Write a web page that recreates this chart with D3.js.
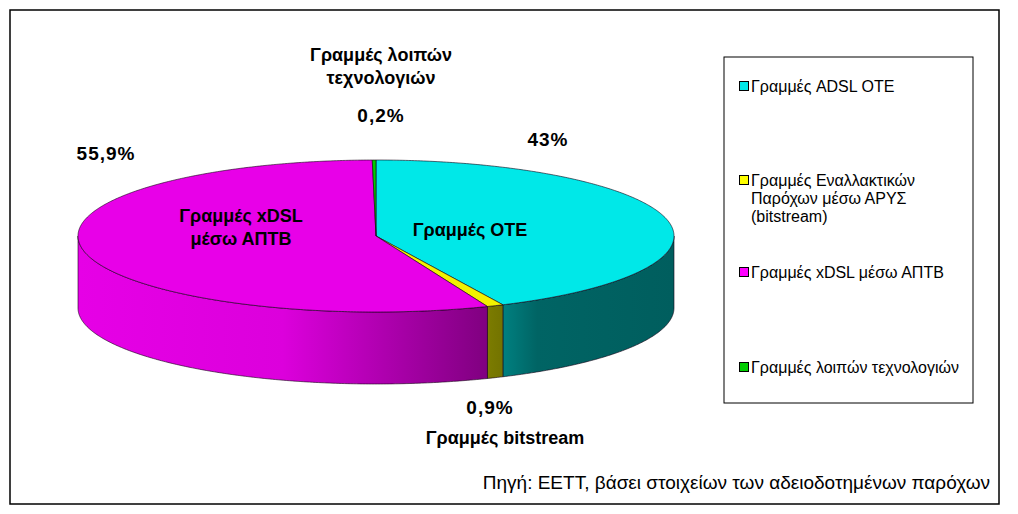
<!DOCTYPE html>
<html><head><meta charset="utf-8">
<script src="https://cdn.jsdelivr.net/npm/d3@7"></script>
<style>body{margin:0;background:#fff}svg{display:block}</style>
</head><body>
<svg id="c" width="1018" height="514"></svg>
<script>
// ---- data ----
const categories = ["Γραμμές ADSL OTE", "Γραμμές Εναλλακτικών Παρόχων μέσω ΑΡΥΣ (bitstream)", "Γραμμές xDSL μέσω ΑΠΤΒ", "Γραμμές λοιπών τεχνολογιών"];
const legendLines = [["Γραμμές ADSL OTE"], ["Γραμμές Εναλλακτικών", "Παρόχων μέσω ΑΡΥΣ", "(bitstream)"], ["Γραμμές xDSL μέσω ΑΠΤΒ"], ["Γραμμές λοιπών τεχνολογιών"]];
const values = [43, 0.9, 55.9, 0.2];
const valueLabels = ["43%", "0,9%", "55,9%", "0,2%"];
const nameLabels = [["Γραμμές OTE"], ["Γραμμές bitstream"], ["Γραμμές xDSL", "μέσω ΑΠΤΒ"], ["Γραμμές λοιπών", "τεχνολογιών"]];
const topColors = ["#00E8E8", "#F2F200", "#E800E8", "#00CC00"];
const sideColors = [["#008080", "#006464", "#005E5E"], ["#808000", "#7A7A00", "#737300"], ["#E600E6", "#DC00DC", "#800080"], ["#008000", "#007000", "#006000"]];
const legendColors = ["#00E8E8", "#FFFF00", "#FF00FF", "#00CC00"];
const sourceText = "Πηγή: ΕΕΤΤ, βάσει στοιχείων των αδειοδοτημένων παρόχων";

const svg = d3.select("#c");
const font = "Arial, 'Liberation Sans', sans-serif";

// outer frame
svg.append("rect").attr("x", 10).attr("y", 10).attr("width", 989).attr("height", 494)
  .attr("fill", "#fff").attr("stroke", "#000").attr("stroke-width", 1.5);

// pie geometry
const cx = 376, cy = 236, rx = 298, ry = 76, depth = 72;
const pie = d3.pie().sort(null).value(d => d)(values);
const P = (t, dy = 0) => [cx + rx * Math.sin(t), cy - ry * Math.cos(t) + dy];
const arcPts = (a0, a1, dy) => {
  const n = Math.max(2, Math.ceil(Math.abs(a1 - a0) / 0.01));
  return d3.range(n + 1).map(i => P(a0 + (a1 - a0) * i / n, dy));
};
const defs = svg.append("defs");
const g = svg.append("g");

// side walls (front half only: angles between PI/2 and 3PI/2)
pie.forEach((s, i) => {
  const a0 = Math.max(s.startAngle, Math.PI / 2), a1 = Math.min(s.endAngle, 3 * Math.PI / 2);
  if (a1 <= a0) return;
  const topPts = arcPts(a0, a1, 0), botPts = arcPts(a1, a0, depth);
  const xs = topPts.map(p => p[0]);
  const xmin = d3.min(xs), xmax = d3.max(xs);
  const gid = "side" + i;
  const lg = defs.append("linearGradient").attr("id", gid).attr("gradientUnits", "userSpaceOnUse")
    .attr("x1", xmin).attr("x2", xmax).attr("y1", 0).attr("y2", 0);
  const c = sideColors[i];
  const stops = i === 2 ? [0, 0.5, 1] : [0, 0.2, 1];
  stops.forEach((o, k) => lg.append("stop").attr("offset", o).attr("stop-color", c[k]));
  g.append("path").attr("d", d3.line()(topPts.concat(botPts)) + "Z")
    .attr("fill", `url(#${gid})`).attr("stroke", "rgba(20,0,20,0.75)").attr("stroke-width", 0.8)
    .attr("stroke-linejoin", "round");
});

// top faces
pie.forEach((s, i) => {
  const pts = [[cx, cy]].concat(arcPts(s.startAngle, s.endAngle, 0));
  g.append("path").attr("d", d3.line()(pts) + "Z")
    .attr("fill", topColors[i]).attr("stroke", "rgba(20,0,20,0.75)").attr("stroke-width", 0.8)
    .attr("stroke-linejoin", "round");
});

// labels
const lab = svg.append("g").attr("font-family", font).attr("font-weight", "bold")
  .attr("fill", "#000").attr("text-anchor", "middle");
const valueXY = [[548, 146], [490, 414], [106, 160], [381, 122]];
const nameXY = [[470, 236], [505, 444], [241, 222], [381, 61]];
pie.forEach((s, i) => {
  lab.append("text").attr("x", valueXY[i][0]).attr("y", valueXY[i][1])
    .attr("font-size", 19).attr("letter-spacing", 1).text(valueLabels[i]);
  nameLabels[i].forEach((t, k) => {
    lab.append("text").attr("x", nameXY[i][0]).attr("y", nameXY[i][1] + k * 23)
      .attr("font-size", 18).text(t);
  });
});

// legend
svg.append("rect").attr("x", 724).attr("y", 57).attr("width", 249).attr("height", 346)
  .attr("fill", "#fff").attr("stroke", "#000").attr("stroke-width", 1);
const legY = [92, 186, 278, 373];
const leg = svg.append("g").attr("font-family", font).attr("font-size", 16).attr("fill", "#000");
categories.forEach((c, i) => {
  leg.append("rect").attr("x", 739.5).attr("y", legY[i] - 10.5).attr("width", 9).attr("height", 9)
    .attr("fill", legendColors[i]).attr("stroke", "#000").attr("stroke-width", 1);
  legendLines[i].forEach((t, k) => {
    leg.append("text").attr("x", 751).attr("y", legY[i] + k * 18).text(t);
  });
});

// source
svg.append("text").attr("x", 990).attr("y", 489).attr("text-anchor", "end")
  .attr("font-family", font).attr("font-size", 19).attr("fill", "#000").text(sourceText);
</script>
</body></html>
